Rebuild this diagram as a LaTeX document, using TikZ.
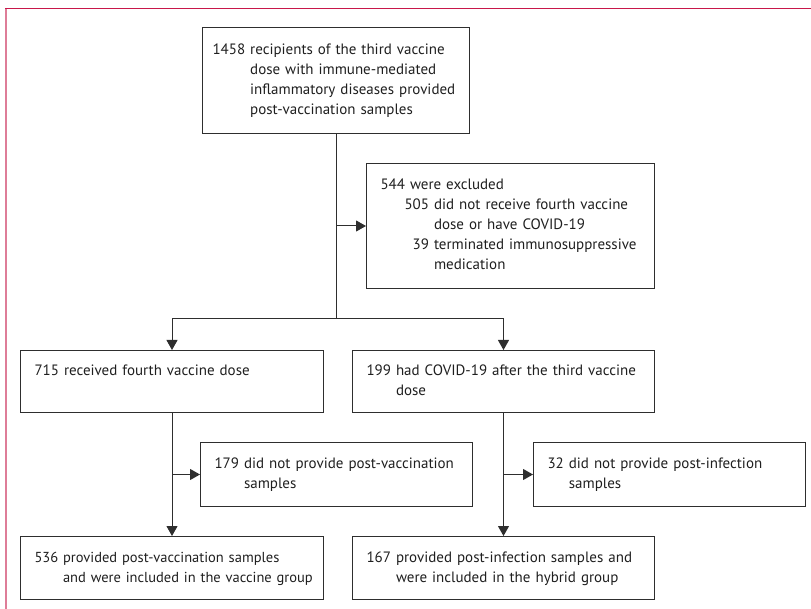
\documentclass[tikz,border=0pt]{standalone}
\usepackage{fontspec}
\setmainfont{PT Sans}
\usetikzlibrary{positioning,arrows.meta}
\definecolor{framered}{HTML}{C8174A}
\definecolor{framepink}{HTML}{DE7D98}
\definecolor{boxline}{HTML}{2E2E2E}
\newcommand{\entry}[2]{\begin{tabular}{@{}r@{\ }l@{}}#1 & #2\end{tabular}}

\begin{document}
\begin{tikzpicture}[
    x=1pt, y=-1pt,
    font=\fontsize{15}{20}\selectfont,
    mybox/.style={draw=boxline, line width=1pt, text=black!88, anchor=north west,
      inner xsep=14pt, inner ysep=0pt, align=left},
    myarrow/.style={draw=boxline, line width=1pt, -{Triangle[length=10pt,width=11pt]}}
    ]
    \useasboundingbox (0,0) rectangle (811,609);

    % frame
    \draw[framepink, line width=2pt] (6,8) -- (6,609);
    \draw[framered, line width=1.8pt] (5,8.5) -- (811,8.5);

    \node[mybox, inner xsep=10pt, text width=247pt, minimum height=106pt] (recip) at (202,27)
      {\entry{1458}{recipients of the third vaccine\\ & dose with immune-mediated\\ & inflammatory diseases provided\\ & post-vaccination samples}};
    \node[mybox, text width=260pt, minimum height=125pt] (excl) at (366,163)
      {\begin{tabular}{@{}l@{}r@{\ }l@{}}
        \multicolumn{3}{@{}l@{}}{544 were excluded}\\
        \hspace{24pt} & 505 & did not receive fourth vaccine\\
        & & dose or have COVID-19\\
        & 39 & terminated immunosuppressive\\
        & & medication
      \end{tabular}};

    \node[mybox, text width=275pt, minimum height=62pt] (fourth) at (20,350)
      {\entry{715}{received fourth vaccine dose\\ & \strut}};
    \node[mybox, text width=274pt, minimum height=62pt] (covid) at (352,350)
      {\entry{199}{had COVID-19 after the third vaccine\\ & dose}};

    \node[mybox, text width=244pt, minimum height=64pt] (nopv) at (200,442)
      {\entry{179}{did not provide post-vaccination\\ & samples}};
    \node[mybox, text width=244pt, minimum height=64pt] (noinf) at (533,442)
      {\entry{32}{did not provide post-infection\\ & samples}};

    \node[mybox, font=\fontsize{14.5}{20}\selectfont, text width=275pt, minimum height=63pt] (vgroup) at (20,536)
      {\entry{536}{provided post-vaccination samples\\ & and were included in the vaccine group}};
    \node[mybox, text width=274pt, minimum height=63pt] (hgroup) at (352,536)
      {\entry{167}{provided post-infection samples and\\ & were included in the hybrid group}};

    \coordinate (split) at (recip.south |- 0,319);

    \draw[boxline, line width=1pt] (recip.south) -- (split);
    \draw[myarrow] (recip.south |- excl.west) -- (excl.west);
    \draw[myarrow] (split) -| (fourth.north);
    \draw[myarrow] (split) -| (covid.north);

    \draw[myarrow] (fourth.south) -- (vgroup.north);
    \draw[myarrow] (fourth.south |- nopv.west) -- (nopv.west);
    \draw[myarrow] (covid.south) -- (hgroup.north);
    \draw[myarrow] (covid.south |- noinf.west) -- (noinf.west);
  \end{tikzpicture}
\end{document}
